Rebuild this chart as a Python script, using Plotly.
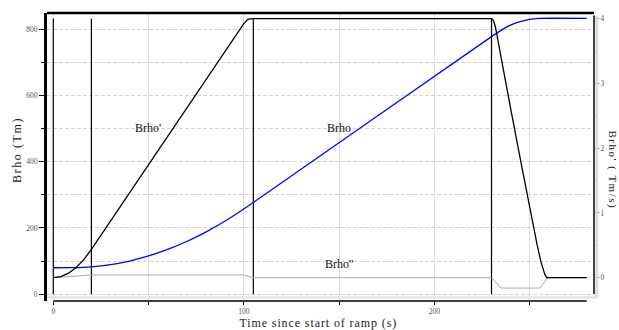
import plotly.graph_objects as go

# ---- data ----
t_brho = [0, 10, 20, 30, 40, 50, 60, 70, 80, 90, 100, 105, 230, 235, 240, 245, 250, 255, 280]
brho = [80, 80.4, 83, 89.4, 100.3, 115.6, 135.2, 159.2, 187.6, 220.2, 257.3, 277, 777, 796, 812, 822, 829, 832, 832]

t_dbrho = [0, 4, 8, 12, 16, 20, 100, 101, 102, 103, 104, 105, 230, 231, 232, 233, 234, 240, 246, 252, 254, 256, 257, 258, 259, 280]
dbrho = [0, 0.017, 0.07, 0.157, 0.279, 0.436, 3.924, 3.96, 3.985, 3.997, 4.0, 4.0, 4.0, 3.97, 3.88, 3.72, 3.55, 2.62, 1.7, 0.78, 0.5, 0.24, 0.13, 0.05, 0, 0]

t_ddbrho = [0, 20, 100, 105, 230, 235, 255.5, 259.5, 280]
ddbrho = [0, 0.042, 0.042, 0, 0, -0.16, -0.16, 0, 0]

marker_times = [0, 20, 105, 230]
marker_top = 832

x_ticks = [0, 100, 200]
y_ticks = [0, 200, 400, 600, 800]
y2_ticks = [0, 1, 2, 3, 4]

labels = [("Brho'", 49.5, 501), ("Brho", 150, 501), ("Brho''", 150, 91)]

SERIF = "Liberation Serif, Times New Roman, serif"

fig = go.Figure()

# Brho'' (right axis), grey
fig.add_trace(go.Scatter(x=t_ddbrho, y=ddbrho, yaxis="y2", mode="lines",
                         line=dict(color="#aaaaaa", width=1), showlegend=False))
# vertical markers
for tm in marker_times:
    fig.add_trace(go.Scatter(x=[tm, tm], y=[0, marker_top], mode="lines",
                             line=dict(color="black", width=1.2), showlegend=False))
# Brho (left axis), blue
fig.add_trace(go.Scatter(x=t_brho, y=brho, mode="lines",
                         line=dict(color="#0000ff", width=1.3, shape="spline", smoothing=0.6),
                         showlegend=False))
# Brho' (right axis), black
fig.add_trace(go.Scatter(x=t_dbrho, y=dbrho, yaxis="y2", mode="lines",
                         line=dict(color="black", width=1.3), showlegend=False))

tickfont = dict(family=SERIF, size=7.5, color="#555555")
HGRID = "#d2d2d2"
VGRID = "#dedede"

fig.update_layout(
    width=619, height=330,
    margin=dict(l=47, r=25, t=13, b=29, pad=0),
    paper_bgcolor="white", plot_bgcolor="white",
    showlegend=False,
    xaxis=dict(range=[-3.3, 283.8], tickvals=x_ticks, ticks="outside", ticklen=3,
               tickcolor="black", tickfont=tickfont, showline=False, zeroline=False,
               showgrid=True, gridcolor=VGRID, gridwidth=1,
               minor=dict(dtick=50, tick0=0, ticks="outside", ticklen=3, tickcolor="black",
                          showgrid=True, gridcolor=VGRID, gridwidth=1)),
    yaxis=dict(range=[-20.2, 848.3], tickvals=y_ticks, ticks="outside", ticklen=5,
               tickcolor="black", tickfont=tickfont, showline=True, linewidth=3,
               linecolor="black", zeroline=False, showgrid=True, gridcolor=HGRID,
               griddash="4px,2px", gridwidth=1,
               minor=dict(dtick=100, tick0=0, ticks="outside", ticklen=3, tickcolor="black",
                          showgrid=True, gridcolor=HGRID, griddash="4px,2px", gridwidth=1)),
    yaxis2=dict(range=[-0.360, 4.088], overlaying="y", side="right", tickvals=y2_ticks,
                ticks="outside", ticklen=4, tickcolor="#444444", tickfont=tickfont,
                showline=False, zeroline=False, showgrid=False,
                minor=dict(dtick=0.5, tick0=0, ticks="outside", ticklen=3, tickcolor="#444444")),
    shapes=[
        # top frame
        dict(type="line", xref="paper", yref="paper", x0=0, x1=1.0, y0=1, y1=1,
             line=dict(color="black", width=2.5)),
        # x axis line
        dict(type="line", xref="x", yref="paper", x0=0, x1=280, y0=0, y1=0,
             line=dict(color="black", width=1.5)),
        # light shadow right and bottom
        dict(type="line", xref="paper", yref="paper", x0=1.005, x1=1.005, y0=0.012, y1=0.99,
             line=dict(color="#dddddd", width=3)),
        dict(type="line", xref="paper", yref="paper", x0=0.0, x1=1.006, y0=0.012, y1=0.012,
             line=dict(color="#e3e3e3", width=2.5)),
        # right axis line
        dict(type="line", xref="paper", yref="y2", x0=1, x1=1, y0=-0.25, y1=4.05,
             line=dict(color="#444444", width=2)),
    ],
)

for txt, xx, yy in labels:
    fig.add_annotation(x=xx, y=yy, xref="x", yref="y", text=txt, showarrow=False,
                       font=dict(family=SERIF, size=12, color="#111111"),
                       xanchor="center", yanchor="middle")

fig.add_annotation(x=-0.0554, y=0.524, xref="paper", yref="paper", text="Brho (Tm)",
                   showarrow=False, textangle=-90, xanchor="center", yanchor="middle",
                   font=dict(family=SERIF, size=12, color="#222222"))
fig.add_annotation(x=1.0325, y=0.455, xref="paper", yref="paper", text="Brho' ( Tm/s)",
                   showarrow=False, textangle=90, xanchor="center", yanchor="middle",
                   font=dict(family=SERIF, size=11, color="#222222"))
fig.add_annotation(x=0.497, y=-0.0764, xref="paper", yref="paper",
                   text="Time since start of ramp (s)",
                   showarrow=False, xanchor="center", yanchor="middle",
                   font=dict(family=SERIF, size=12, color="#222222"))

post = """
document.body.style.margin = '0';
document.body.style.padding = '0';
var gd = document.getElementById('{plot_id}');
gd.querySelectorAll('g.annotation text').forEach(function(t){
  var s = t.textContent;
  if (s.indexOf('Time since') === 0) { t.style.letterSpacing = '0.9px'; }
  else if (s.indexOf('(Tm)') > 0) { t.style.letterSpacing = '1.6px'; }
  else if (s.indexOf('Tm/s') > 0) { t.style.letterSpacing = '1.5px'; }
});
"""

fig.write_html("out.html", post_script=post, config={"responsive": False, "displayModeBar": False})
